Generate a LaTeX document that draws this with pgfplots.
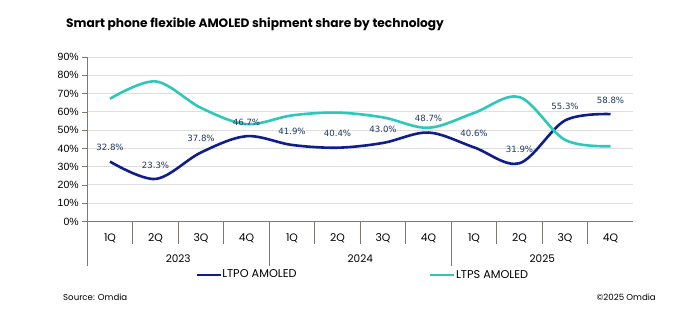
\documentclass[border=0pt]{standalone}
\usepackage{pgfplots}
\pgfplotsset{compat=1.18}
\usepackage{fontspec}
\setmainfont{Liberation Sans}
\newfontfamily\pop{Poppins}
\newfontfamily\dejavu{DejaVu Sans}
\definecolor{ltpo}{RGB}{16,30,140}
\definecolor{ltps}{RGB}{45,200,185}
\definecolor{lbl}{RGB}{31,58,96}
\definecolor{axgray}{RGB}{130,120,110}
\definecolor{gridgray}{RGB}{222,222,222}
\begin{document}
\begin{tikzpicture}[x=1pt,y=1pt]
\useasboundingbox[fill=white] (0,0) rectangle (700,321);
\node[anchor=west, inner sep=0pt, font=\pop\bfseries\fontsize{12.2}{14}\selectfont] at (66,297) {Smart phone flexible AMOLED shipment share by technology};
\node[anchor=west, inner sep=0pt, font=\pop\fontsize{8.6}{10}\selectfont] at (63,24) {Source: Omdia};
\node[anchor=east, inner sep=0pt, font=\pop\fontsize{8.6}{10}\selectfont] at (656,24) {©2025 Omdia};
\begin{axis}[
  at={(110pt,99.5pt)}, anchor=origin,
  scale only axis, width=546pt, height=164.4pt,
  xmin=-0.5, xmax=11.5, ymin=0, ymax=90,
  axis x line=bottom, axis y line=left,
  axis line style={draw=axgray, line width=0.8pt, -},
  clip=false,
  xtick={0,...,11},
  xticklabels={1Q,2Q,3Q,4Q,1Q,2Q,3Q,4Q,1Q,2Q,3Q,4Q},
  xtick style={draw=none},
  xticklabel style={anchor=center, yshift=-12pt, font=\pop\fontsize{10.8}{12}\selectfont},
  ytick={0,10,...,90},
  yticklabel={\pgfmathprintnumber{\tick}\%},
  ytick style={draw=axgray, line width=0.8pt},
  tick align=outside, major tick length=5pt,
  yticklabel style={font=\fontsize{10.5}{12}\selectfont},
  /pgf/number format/assume math mode=true,
  ymajorgrids, grid style={draw=gridgray, line width=1pt},
  legend style={at={(0.1978,-0.324)}, anchor=west, draw=none, fill=none,
    font=\pop\fontsize{11.3}{13}\selectfont, inner sep=0pt, outer sep=0pt,
    nodes={inner sep=0.5pt},
    /tikz/every odd column/.append style={column sep=0pt},
    /tikz/every even column/.append style={column sep=132pt}},
  legend columns=2,
  legend cell align=left,
  legend image code/.code={\draw[#1, line width=2.5pt] (0pt,0pt) -- (24pt,0pt);},
]
\addplot[ltpo, line width=2.6pt, smooth, tension=0.55, no marks,
  nodes near coords={\pgfmathprintnumber[fixed,fixed zerofill,precision=1]{\pgfplotspointmeta}\%},
  point meta=y,
  nodes near coords style={anchor=center, yshift=14pt, text=lbl, font=\dejavu\fontsize{8.6}{10}\selectfont}]
  coordinates {(0,32.8) (1,23.3) (2,37.8) (3,46.7) (4,41.9) (5,40.4) (6,43.0) (7,48.7) (8,40.6) (9,31.9) (10,55.3) (11,58.8)};
\addlegendentry{LTPO AMOLED}
\addplot[ltps, line width=2.6pt, smooth, tension=0.55, no marks]
  coordinates {(0,67.2) (1,76.7) (2,62.2) (3,53.3) (4,58.1) (5,59.6) (6,57.0) (7,51.3) (8,59.4) (9,68.1) (10,44.7) (11,41.2)};
\addlegendentry{LTPS AMOLED}
\pgfplotsinvokeforeach{0.5,1.5,2.5,4.5,5.5,6.5,8.5,9.5,10.5}{
  \draw[axgray, line width=0.8pt] (axis cs:#1,0) -- ++(0pt,-22pt);
}
\pgfplotsinvokeforeach{-0.5,3.5,7.5}{
  \draw[axgray, line width=0.8pt] (axis cs:#1,0) -- ++(0pt,-44pt);
}
\node[font=\pop\fontsize{10.5}{12}\selectfont] at ([yshift=-37pt]axis cs:1.5,0) {2023};
\node[font=\pop\fontsize{10.5}{12}\selectfont] at ([yshift=-37pt]axis cs:5.5,0) {2024};
\node[font=\pop\fontsize{10.5}{12}\selectfont] at ([yshift=-37pt]axis cs:9.5,0) {2025};
\end{axis}
\end{tikzpicture}
\end{document}
